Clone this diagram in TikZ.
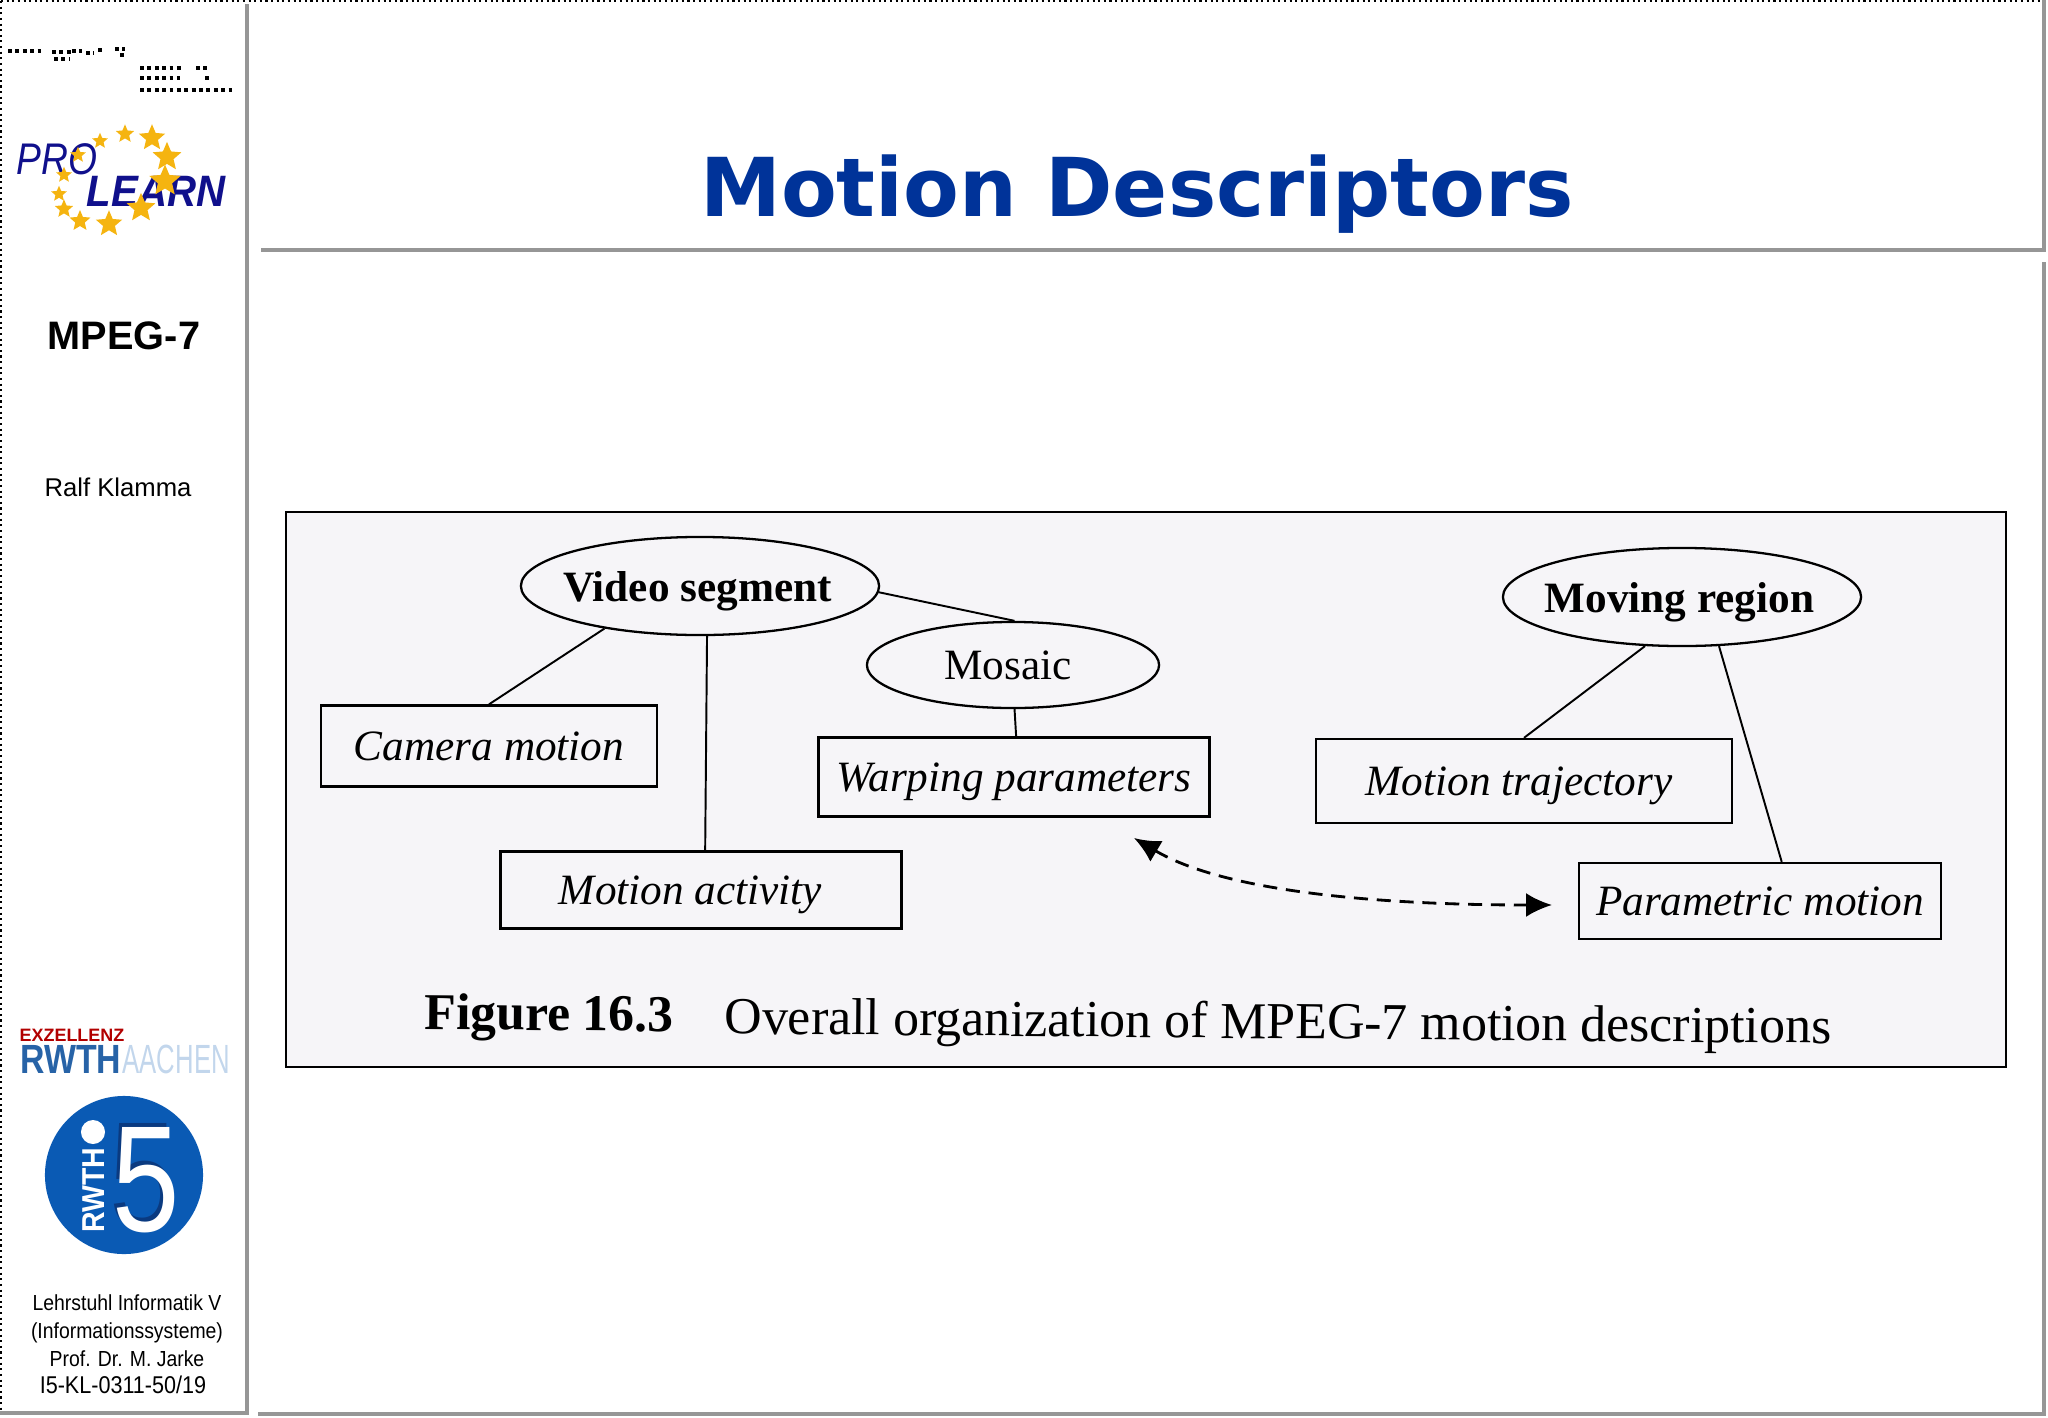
\documentclass[tikz,border=0pt]{standalone}
\usepackage{fontspec}
\setmainfont{Liberation Serif}
\setsansfont{Liberation Sans}
\newfontfamily\titlefont{DejaVu Sans}
\newfontfamily\narrowsans[FakeStretch=0.89]{Liberation Sans}
\usepackage{xcolor}
\usetikzlibrary{shapes.geometric, arrows.meta}
\usetikzlibrary{calc,positioning}

\definecolor{titleblue}{HTML}{003399}
\definecolor{barGray}{HTML}{969696}
\definecolor{panelBg}{HTML}{F6F5F8}
\definecolor{logoBlue}{HTML}{0A5AB4}
\definecolor{logoDark}{HTML}{0A3A80}
\definecolor{proBlue}{HTML}{10108C}
\definecolor{starGold}{HTML}{F5B410}

\tikzset{
    bar/.style={line width=1.4pt, barGray},
    desc/.style={draw, line width=0.65pt, rectangle, inner sep=0pt, text depth=0pt, font=\fontsize{12.3}{12.3}\selectfont\itshape},
    blob/.style={draw, line width=0.65pt, ellipse, inner xsep=-6pt, inner ysep=0pt, text depth=0pt, font=\fontsize{12.3}{12.3}\selectfont},
    link/.style={line width=0.55pt},
    gold/.style={star, star points=5, star point ratio=2.2, fill=starGold, inner sep=0pt},
    side/.style={font=\narrowsans\fontsize{6.2}{6.2}\selectfont, inner sep=0pt}
}

\begin{document}
\begin{tikzpicture}[x=0.01cm, y=-0.01cm]

    \useasboundingbox (0,0) rectangle (2048,1418);

    % Frame
    \draw[line width=0.6pt, densely dotted] (1,1) -- (2048,1);
    \draw[line width=0.6pt, densely dotted] (1,1) -- (1,1416);
    \draw[bar] (247,4) -- (247,1413) -- (0,1413);
    \draw[bar] (258,1414) -- (2044,1414) -- (2044,262);
    \draw[bar] (261,250) -- (2044,250) -- (2044,0);

    % Noise in the header
    \foreach \x/\y/\w in {8/51/36, 52/52/20, 54/59/16, 72/51/10, 86/53/8, 98/50/6, 115/49/10, 120/55/6,
        140/68/42, 140/78/40, 140/90/96, 196/68/14, 205/78/6} {
        \draw[line width=1.1pt, densely dotted] (\x,\y) -- ++(\w,0);
    }

    % Pro learn logo
    \node[inner sep=0pt, text=proBlue, font=\sffamily\itshape\fontsize{12.6}{12.6}\selectfont] (pro) at (57,159) {\scalebox{.84}[1]{PRO}};
    \node[inner sep=0pt, text=proBlue, font=\sffamily\bfseries\itshape\fontsize{12.5}{12.5}\selectfont] (learn) at (156,191) {\scalebox{.915}[1]{LEARN}};
    \foreach \x/\y/\r in {78/155/3, 100/141/3, 125/134/3.5, 152/138/5, 167/157/5.5, 165/181/6, 141/208/5.5,
        109/224/5, 80/221/4, 64/209/3.5, 59/194/3, 64/175/3} {
        \node[gold, minimum size=\r*0.055cm] (s\x) at (\x,\y) {};
    }

    % Side texts
    \node[inner sep=0pt, font=\sffamily\bfseries\fontsize{11.3}{11.3}\selectfont] (mpeg) at (124,336) {MPEG-7};
    \node[inner sep=0pt, font=\sffamily\fontsize{7.3}{7.3}\selectfont] (author) at (118,487) {Ralf Klamma};
    \node[side] (chair) at (127,1303) {Lehrstuhl Informatik V};
    \node[side] (infsys) at (127,1333) {(Informationssysteme)};
    \node[side] (prof) at (127,1359) {Prof. Dr. M. Jarke};
    \node[side, font=\narrowsans\fontsize{6.9}{6.9}\selectfont] (code) at (123,1385) {I5-KL-0311-50/19};

    % Rwth logo
    \node[inner sep=0pt, text=red!70!black, font=\sffamily\bfseries\fontsize{5.1}{5.1}\selectfont] (exz) at (72,1035) {EXZELLENZ};
    \node[inner sep=0pt, anchor=east, text=logoBlue!75!gray, font=\sffamily\bfseries\fontsize{11.6}{11.6}\selectfont] (rwth) at (122,1059) {\scalebox{.83}[1]{RWTH}};
    \node[inner sep=0pt, anchor=west, text=logoBlue!25!white, font=\sffamily\fontsize{11.6}{11.6}\selectfont] (aachen) at (122,1059) {\scalebox{.63}[1]{AACHEN}};

    % I5 logo
    \node[circle, fill=logoBlue, minimum size=1.58cm, inner sep=0pt] (five) at (124,1175) {};
    \node[inner sep=0pt, text=logoDark, font=\sffamily\fontsize{43}{43}\selectfont] (fiveshade) at (143,1176) {\scalebox{.8}[1]{5}};
    \node[inner sep=0pt, text=white, font=\sffamily\fontsize{43}{43}\selectfont] (fivenum) at (146,1180) {\scalebox{.8}[1]{5}};
    \node[circle, fill=white, minimum size=0.24cm, inner sep=0pt] (idot) at (93,1132) {};
    \node[inner sep=0pt, rotate=90, text=white, font=\sffamily\bfseries\fontsize{9}{9}\selectfont] (rwthbar) at (94,1190) {\scalebox{.9}[1]{RWTH}};

    % Title
    \node[inner sep=0pt, text=titleblue, font=\titlefont\bfseries\fontsize{23.1}{23.1}\selectfont] (title) at (1137,194) {Motion Descriptors};

    % Panel
    \draw[line width=0.6pt, fill=panelBg] (286,512) rectangle (2006,1067);

    \node[blob, minimum width=3.58cm, minimum height=0.98cm, font=\fontsize{12.3}{12.3}\selectfont\bfseries] (vseg) at (700,586) {Video segment\kern0.05cm};
    \node[blob, minimum width=2.92cm, minimum height=0.86cm] (mosaic) at (1013,665) {Mosaic\kern0.1cm};
    \node[blob, minimum width=3.58cm, minimum height=0.98cm, font=\fontsize{12.3}{12.3}\selectfont\bfseries] (mreg) at (1682,597) {Moving region\kern0.05cm};

    \node[desc, minimum width=3.36cm, minimum height=0.81cm] (cam) at (489,746) {Camera motion};
    \node[desc, minimum width=3.91cm, minimum height=0.79cm] (warp) at (1014,777) {Warping parameters};
    \node[desc, minimum width=4.01cm, minimum height=0.77cm] (mact) at (701,890) {Motion activity\kern0.21cm};
    \node[desc, minimum width=4.16cm, minimum height=0.84cm] (traj) at (1524,781) {Motion trajectory\kern0.1cm};
    \node[desc, minimum width=3.62cm, minimum height=0.76cm] (par) at (1760,901) {Parametric motion};

    \draw[link] (vseg.204) -- (cam.north);
    \draw[link] (vseg.-82.5) -- (mact.84);
    \draw[link] (vseg.-2) -- (mosaic.88);
    \draw[link] (mosaic.-88) -- (warp.87);
    \draw[link] (mreg.-127) -- (traj.north);
    \draw[link] (mreg.-53) -- (par.61);

    % Dashed double arrow
    \coordinate (arrA) at (1134,838);
    \coordinate (arrB) at (1552,905);
    \draw[{Latex[length=0.26cm,width=0.24cm]}-{Latex[length=0.26cm,width=0.24cm]}, dash pattern=on 4pt off 2.5pt, line width=0.8pt]
        (arrA) .. controls (1230,895) and (1400,905) .. (arrB);

    % Caption
    \node[inner sep=0pt, anchor=west, rotate=-0.5, font=\fontsize{14.7}{14.7}\selectfont\bfseries] (figno) at (424,1017) {Figure 16.3};
    \node[inner sep=0pt, anchor=west, rotate=-0.5, font=\fontsize{14.75}{14.75}\selectfont] (capt) at (724,1021) {Overall organization of MPEG-7 motion descriptions};

\end{tikzpicture}
\end{document}
